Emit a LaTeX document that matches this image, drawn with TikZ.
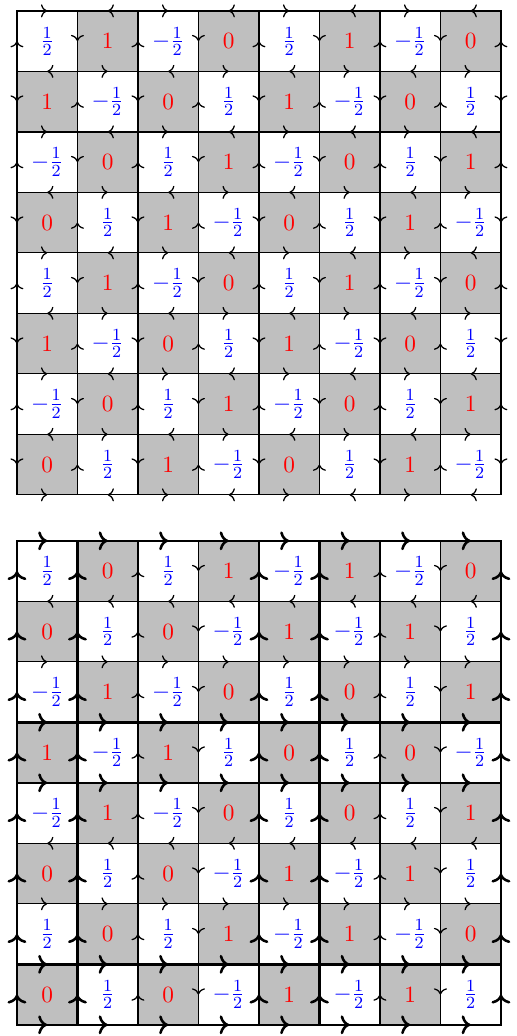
\documentclass[tikz,border=0pt]{standalone}
\usetikzlibrary{arrows.meta,decorations.markings}
\newcommand\vh{$\frac{1}{2}$}
\newcommand\vm{$-\frac{1}{2}$}
\newcommand\vo{$1$}
\newcommand\vz{$0$}
\tikzset{
  thin edge/.style = {semithick, line cap=rect},
  bold edge/.style = {very thick, line cap=rect},
  mid arrow/.style = {postaction={decorate},
                      decoration={markings,
                        mark=at position 0.5 with {\arrow{To}}}},
  grey cell/.style = {fill=lightgray},
  val/.style       = {font=\fontsize{11}{13}\selectfont}
}
\begin{document}
\begin{tikzpicture}
\useasboundingbox (-0.28,-0.185) rectangle (8.25,16.94);

% upper lattice
\begin{scope}[yshift=8.76cm]
  \foreach \r in {0,...,7}
    \foreach \c in {0,...,7} {
      \pgfmathtruncatemacro\p{mod(\r+\c,2)}
      \ifnum\p=1 \fill[grey cell] (\c,7-\r) rectangle ++(1,1); \fi
    }
  \foreach \k in {0,...,8}
    \foreach \c in {0,...,7} {
      \pgfmathtruncatemacro\d{1-2*mod(\k+\c,2)}
      \draw[thin edge, mid arrow] ({\c+0.5-0.5*\d},8-\k) -- ({\c+0.5+0.5*\d},8-\k);
    }
  \foreach \j in {0,...,8}
    \foreach \r in {0,...,7} {
      \pgfmathtruncatemacro\d{1-2*mod(\j+\r,2)}
      \draw[thin edge, mid arrow] (\j,{7.5-\r-0.5*\d}) -- (\j,{7.5-\r+0.5*\d});
    }
  \foreach \r in {0,...,7}
    \foreach \c in {0,...,7} {
      \pgfmathtruncatemacro\p{mod(\r+\c,2)}
      \pgfmathtruncatemacro\q{mod(\r+\c,4)}
      \ifnum\p=0 \def\tc{blue}\else\def\tc{red}\fi
      \node[val, text=\tc] (up-\r-\c) at (\c+0.5,7.5-\r)
        {\ifcase\q \vh\or \vo\or \vm\or \vz\fi};
    }
\end{scope}

% lower lattice
\foreach \r in {0,...,7}
  \foreach \c in {0,...,7} {
    \pgfmathtruncatemacro\p{mod(\r+\c,2)}
    \ifnum\p=1 \fill[grey cell] (\c,7-\r) rectangle ++(1,1); \fi
  }
\foreach \k/\lw/\d in {0/bold edge/1, 1/thin edge/-1, 2/thin edge/1,
    3/bold edge/1, 4/bold edge/1, 5/thin edge/-1, 6/thin edge/1,
    7/bold edge/1, 8/bold edge/1}
  \foreach \c in {0,...,7}
    \draw[\lw, mid arrow] ({\c+0.5-0.5*\d},8-\k) -- ({\c+0.5+0.5*\d},8-\k);
\foreach \j/\lw/\d in {0/bold edge/1, 1/bold edge/1, 2/thin edge/1,
    3/thin edge/-1, 4/bold edge/1, 5/bold edge/1, 6/thin edge/1,
    7/thin edge/-1, 8/bold edge/1}
  \foreach \r in {0,...,7}
    \draw[\lw, mid arrow] (\j,{7.5-\r-0.5*\d}) -- (\j,{7.5-\r+0.5*\d});
\foreach \row [count=\r from 0] in {
    {\vh,\vz,\vh,\vo,\vm,\vo,\vm,\vz},
    {\vz,\vh,\vz,\vm,\vo,\vm,\vo,\vh},
    {\vm,\vo,\vm,\vz,\vh,\vz,\vh,\vo},
    {\vo,\vm,\vo,\vh,\vz,\vh,\vz,\vm},
    {\vm,\vo,\vm,\vz,\vh,\vz,\vh,\vo},
    {\vz,\vh,\vz,\vm,\vo,\vm,\vo,\vh},
    {\vh,\vz,\vh,\vo,\vm,\vo,\vm,\vz},
    {\vz,\vh,\vz,\vm,\vo,\vm,\vo,\vh}}
  \foreach \v [count=\c from 0] in \row {
    \pgfmathtruncatemacro\p{mod(\r+\c,2)}
    \ifnum\p=0 \def\tc{blue}\else\def\tc{red}\fi
    \node[val, text=\tc] (lo-\r-\c) at (\c+0.5,7.5-\r) {\v};
  }
\end{tikzpicture}
\end{document}
